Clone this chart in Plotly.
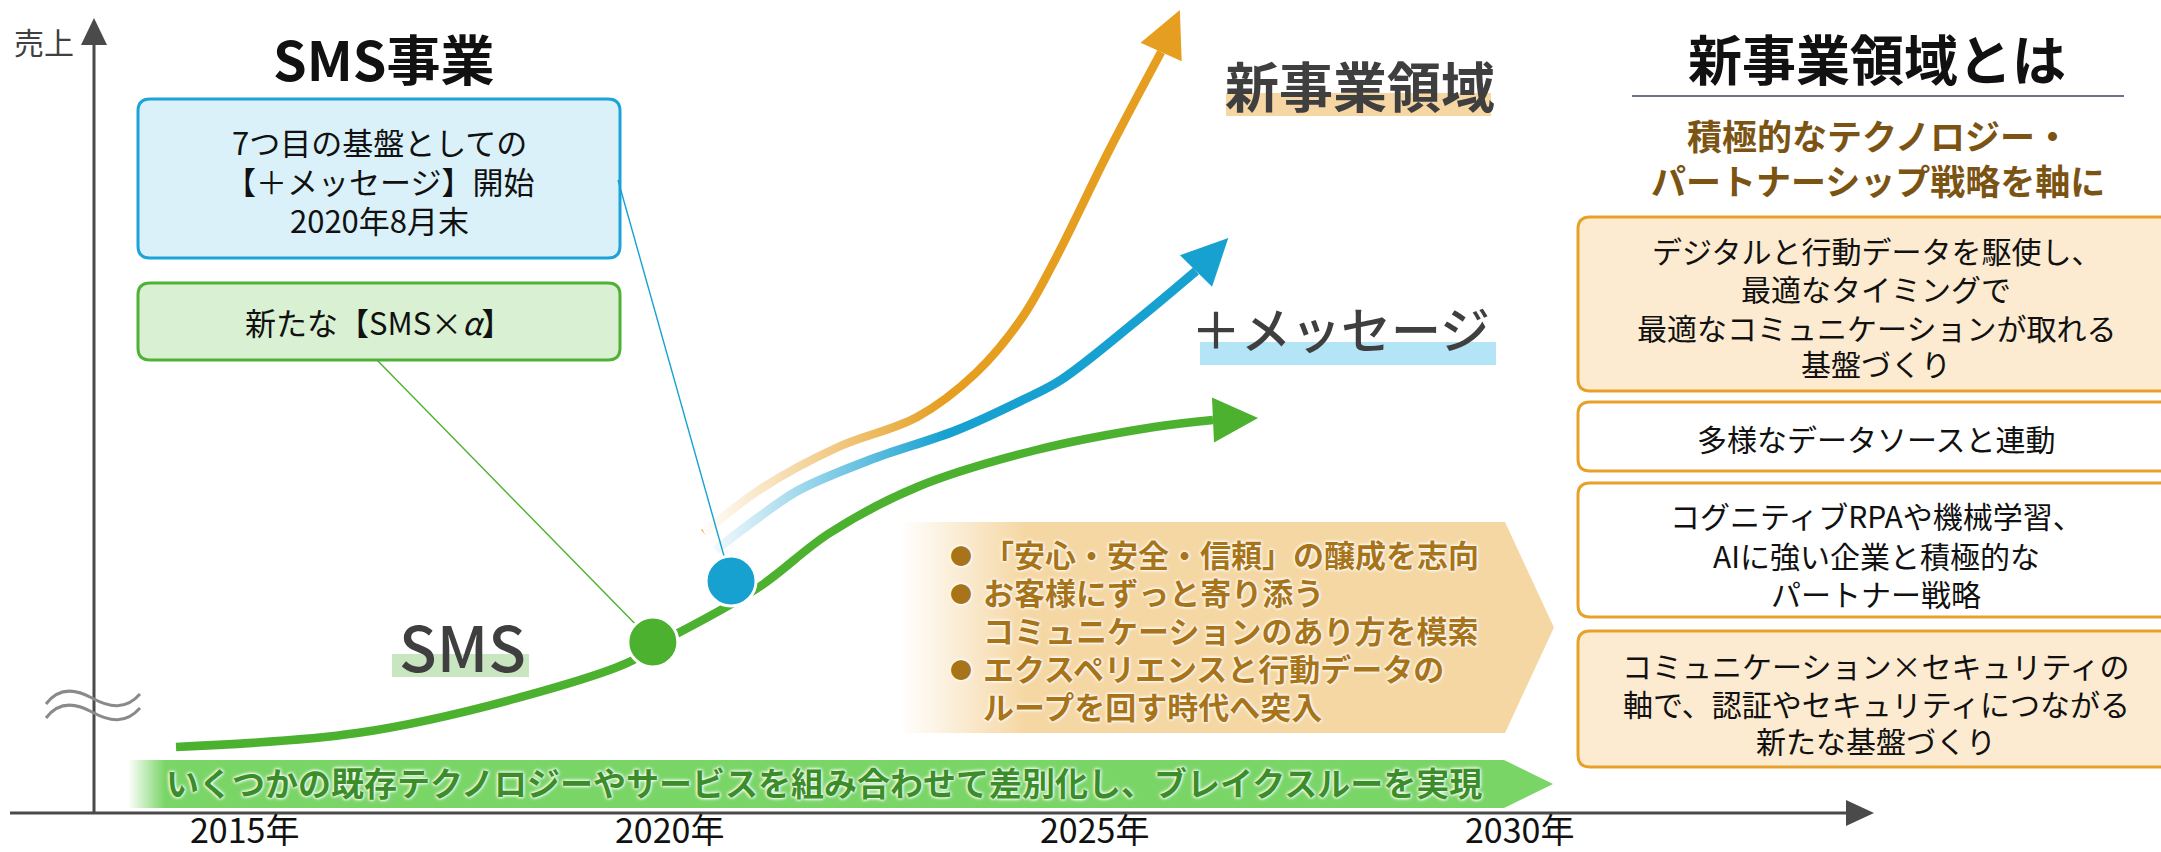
import numpy as np
import plotly.graph_objects as go

# ---------------- data ----------------
TICK_YEARS = [2015, 2020, 2025, 2030]
TICK_LABELS = ["2015年", "2020年", "2025年", "2030年"]

# SMS (green) curve: year, sales index ; last point = arrow tip
SMS_YEARS = [2014.20, 2016.33, 2018.13, 2019.58, 2019.81, 2020.13, 2021.06, 2021.89,
             2022.92, 2024.32, 2025.71, 2026.40, 2026.93]
SMS_SALES = [66, 80, 113, 153, 168, 181, 226, 280, 326, 363, 386, 393, 395]

# +メッセージ (blue) curve
MSG_YEARS = [2020.55, 2021.06, 2021.53, 2022.36, 2023.39, 2024.16, 2024.61, 2025.51,
             2026.20, 2026.58]
MSG_SALES = [263, 296, 323, 353, 383, 413, 433, 493, 542, 575]

# 新事業領域 (orange) curve
NEW_YEARS = [2020.41, 2021.06, 2021.99, 2022.92, 2023.61, 2024.16, 2024.54, 2025.18,
             2025.79, 2026.01]
NEW_SALES = [280, 323, 366, 396, 440, 496, 553, 663, 761, 803]

# milestones
EVENT_YEARS = [2019.81, 2020.73]
EVENT_SALES = [171, 232]

BLUE_BOX_LINES = ["7つ目の基盤としての", "【＋メッセージ】開始", "2020年8月末"]
GREEN_BOX_LINE = "新たな【SMS×<i>α</i>】"
BULLET_LINES = [("●", "「安心・安全・信頼」の醸成を志向"),
                ("●", "お客様にずっと寄り添う"),
                ("", "コミュニケーションのあり方を模索"),
                ("●", "エクスペリエンスと行動データの"),
                ("", "ループを回す時代へ突入")]
BAND_TEXT = "いくつかの既存テクノロジーやサービスを組み合わせて差別化し、ブレイクスルーを実現"
RIGHT_BOXES = [
    ["デジタルと行動データを駆使し、", "最適なタイミングで", "最適なコミュニケーションが取れる", "基盤づくり"],
    ["多様なデータソースと連動"],
    ["コグニティブRPAや機械学習、", "AIに強い企業と積極的な", "パートナー戦略"],
    ["コミュニケーション×セキュリティの", "軸で、認証やセキュリティにつながる", "新たな基盤づくり"],
]

# ---------------- geometry helpers ----------------
W, H = 2161, 852
PX_2015, PX_PER_YEAR, AXIS_PY = 244, 85, 813
FONT = "Noto Sans CJK JP"

def X(px): return 2015 + (px - PX_2015) / PX_PER_YEAR
def Y(py): return AXIS_PY - py
def PX(yr): return PX_2015 + (yr - 2015) * PX_PER_YEAR
def PY(v): return AXIS_PY - v
def P(px, py): return f"{X(px):.5f},{Y(py):.3f}"

def rrect(x0, y0, x1, y1, r):
    return (f"M{P(x0+r,y0)} L{P(x1-r,y0)} Q{P(x1,y0)} {P(x1,y0+r)} L{P(x1,y1-r)} "
            f"Q{P(x1,y1)} {P(x1-r,y1)} L{P(x0+r,y1)} Q{P(x0,y1)} {P(x0,y1-r)} "
            f"L{P(x0,y0+r)} Q{P(x0,y0)} {P(x0+r,y0)} Z")

fig = go.Figure()
shapes = []

def box(x0, y0, x1, y1, fill, line, r=12, w=3):
    shapes.append(dict(type="path", path=rrect(x0, y0, x1, y1, r), fillcolor=fill,
                       line=dict(color=line, width=w), layer="below",
                       xref="x", yref="y"))

def bar(x0, y0, x1, y1, fill):
    shapes.append(dict(type="rect", x0=X(x0), x1=X(x1), y0=Y(y0), y1=Y(y1),
                       fillcolor=fill, line=dict(width=0), layer="below",
                       xref="x", yref="y"))

def txt(px, py, s, size, color="#111111", weight="normal", anchor="center", shadow=None):
    f = dict(family=FONT, size=size, color=color, weight=weight)
    if shadow:
        f["shadow"] = shadow
    fig.add_annotation(x=X(px), y=Y(py), text=s, showarrow=False, xanchor=anchor,
                       yanchor="middle", font=f, borderpad=0)

def poly(pts, fill=None, gradient=None):
    xs = [X(p[0]) for p in pts] + [X(pts[0][0])]
    ys = [Y(p[1]) for p in pts] + [Y(pts[0][1])]
    kw = dict(x=xs, y=ys, mode="lines", fill="toself", line=dict(width=0),
              hoverinfo="skip", showlegend=False)
    if gradient:
        kw["fillgradient"] = gradient
        kw["fillcolor"] = "rgba(0,0,0,0)"
    else:
        kw["fillcolor"] = fill
    fig.add_trace(go.Scatter(**kw))

# ---------------- background bands ----------------
GREEN_BAND = "rgba(122,213,103,1)"
poly([(128, 760), (1504, 760), (1553, 784), (1504, 808), (128, 808)],
     gradient=dict(type="horizontal", start=X(128), stop=X(165),
                   colorscale=[[0, "rgba(122,213,103,0)"], [1, GREEN_BAND]]))
poly([(900, 522), (1505, 522), (1554, 627.5), (1505, 733), (900, 733)],
     gradient=dict(type="horizontal", start=X(900), stop=X(1025),
                   colorscale=[[0, "rgba(245,215,163,0)"], [1, "rgba(245,215,163,1)"]]))

# ---------------- curves ----------------
def curve(years, sales, color, width):
    fig.add_trace(go.Scatter(x=years[:-1], y=sales[:-1], mode="lines",
                             line=dict(color=color, width=width, shape="spline"),
                             hoverinfo="skip", showlegend=False))
    bx, by = PX(years[-2]), PY(sales[-2])
    tx, ty = PX(years[-1]), PY(sales[-1])
    d = np.array([tx - bx, ty - by], dtype=float)
    d /= np.linalg.norm(d)
    n = np.array([-d[1], d[0]])
    hw = 22.5
    b = np.array([bx, by])
    pts = [tuple(b + n * hw), (tx, ty), tuple(b - n * hw)]
    poly(pts, fill=color)

ORANGE, BLUE, GREEN = "#E59E1F", "#17A1D1", "#4CB12F"
curve(NEW_YEARS, NEW_SALES, ORANGE, 8.5)
curve(MSG_YEARS, MSG_SALES, BLUE, 9)
curve(SMS_YEARS, SMS_SALES, GREEN, 8.5)

# fade of the start of the new curves (white gradient veil)
top = [(PX(x) - 6, PY(v) - 12) for x, v in zip(NEW_YEARS, NEW_SALES) if PX(x) < 990]
bot = [(PX(x) + 4, PY(v) + 12) for x, v in zip(MSG_YEARS, MSG_SALES) if PX(x) < 1040]
poly(top + bot[::-1],
     gradient=dict(type="horizontal", start=X(700), stop=X(945),
                   colorscale=[[0, "rgba(255,255,255,1)"], [0.12, "rgba(255,255,255,0.88)"],
                               [1, "rgba(255,255,255,0)"]]))

# ---------------- leader lines & milestones ----------------
fig.add_trace(go.Scatter(x=[X(377), EVENT_YEARS[0]], y=[Y(360), EVENT_SALES[0]], mode="lines",
                         line=dict(color=GREEN, width=1.4), hoverinfo="skip", showlegend=False))
fig.add_trace(go.Scatter(x=[X(618), EVENT_YEARS[1]], y=[Y(180), EVENT_SALES[1]], mode="lines",
                         line=dict(color=BLUE, width=1.4), hoverinfo="skip", showlegend=False))
fig.add_trace(go.Scatter(x=EVENT_YEARS, y=EVENT_SALES, mode="markers",
                         marker=dict(size=50, color=[GREEN, BLUE], line=dict(color="white", width=3)),
                         hoverinfo="skip", showlegend=False))

# ---------------- axes ----------------
AX = "#4A4A4A"
shapes.append(dict(type="line", x0=X(10), x1=X(1852), y0=Y(813), y1=Y(813),
                   line=dict(color=AX, width=3), xref="x", yref="y"))
shapes.append(dict(type="path", path=f"M{P(1846,800)} L{P(1874,813)} L{P(1846,826)} Z",
                   fillcolor=AX, line=dict(width=0), xref="x", yref="y"))
shapes.append(dict(type="line", x0=X(94), x1=X(94), y0=Y(813), y1=Y(40),
                   line=dict(color=AX, width=3), xref="x", yref="y"))
shapes.append(dict(type="path", path=f"M{P(81,45)} L{P(94,18)} L{P(107,45)} Z",
                   fillcolor=AX, line=dict(width=0), xref="x", yref="y"))
for off in (0, 14):
    shapes.append(dict(type="path",
                       path=(f"M{P(46,704+off)} C{P(58,688+off)} {P(74,688+off)} {P(92,698+off)} "
                             f"C{P(110,708+off)} {P(126,710+off)} {P(140,694+off)}"),
                       line=dict(color="#8A8A8A", width=3), xref="x", yref="y"))
txt(44, 41, "売上", 30, "#404040")
for yr, lab in zip(TICK_YEARS, TICK_LABELS):
    fig.add_annotation(x=yr, y=Y(828), text=lab, showarrow=False, xanchor="center",
                       yanchor="middle", font=dict(family=FONT, size=34, color="#111111"))

# ---------------- left boxes ----------------
box(138, 99, 620, 258, "#DAF1F9", "#1CA3D8")
box(138, 283, 620, 360, "#DAF0D3", "#4FB135")
for i, line in enumerate(BLUE_BOX_LINES):
    txt(379, 141 + i * 39, line, 31)
txt(379, 321, GREEN_BOX_LINE, 31)
txt(383, 57, "SMS事業", 54, "#111111", weight="bold")

# ---------------- curve labels ----------------
bar(1226, 93, 1491, 116, "#F6D7A4")
txt(1360, 84, "新事業領域", 54, "#3F3F3F", weight="bold")
bar(1200, 342, 1496, 365, "#B3E5F6")
txt(1340, 327, "＋メッセージ", 50, "#3F3F3F", weight=500)
bar(392, 654, 529, 677, "#C8E7C0")
txt(462, 645, "SMS", 62, "#3F3F3F", weight=500)

# ---------------- pentagon bullets ----------------
GLOW = "0px 0px 3px #FFFFFF, 0px 0px 3px #FFFFFF, 0px 0px 4px #FFFFFF"
BROWN = "#A8741A"
for i, (b, line) in enumerate(BULLET_LINES):
    py = 553 + i * 38
    if b:
        txt(961, py + 1, b, 22, BROWN, shadow=GLOW)
    txt(982, py, line, 31, BROWN, weight="bold", anchor="left", shadow=GLOW)
txt(824, 782, BAND_TEXT, 33, "#3A8D28", weight="bold", shadow=GLOW)

# ---------------- right panel ----------------
txt(1877, 57, "新事業領域とは", 54, "#111111", weight="bold")
shapes.append(dict(type="line", x0=X(1632), x1=X(2124), y0=Y(96), y1=Y(96),
                   line=dict(color="#6B7389", width=2), xref="x", yref="y"))
txt(1878, 134, "積極的なテクノロジー・", 35, "#7B5414", weight="bold")
txt(1878, 179, "パートナーシップ戦略を軸に", 35, "#7B5414", weight="bold")

RBOX = [(217, 391, "#FCEBD0", [250, 288, 327, 363]),
        (402, 471, "#FFFFFF", [438]),
        (483, 617, "#FFFFFF", [515, 555, 593]),
        (631, 767, "#FCEBD0", [665, 703, 740])]
for (y0, y1, fill, ys), lines in zip(RBOX, RIGHT_BOXES):
    box(1578, y0, 2185, y1, fill, "#E8A128")
    for py, line in zip(ys, lines):
        txt(1876, py, line, 30)

fig.update_layout(
    width=W, height=H, autosize=False,
    margin=dict(l=0, r=0, t=0, b=0, pad=0),
    paper_bgcolor="white", plot_bgcolor="white",
    xaxis=dict(range=[X(0), X(W)], visible=False, fixedrange=True),
    yaxis=dict(range=[Y(H), Y(0)], visible=False, fixedrange=True),
    shapes=shapes, showlegend=False,
    font=dict(family=FONT),
)
fig.write_html("out.html", config={"displayModeBar": False},
               post_script="document.body.style.margin='0';document.body.style.overflow='hidden';")
